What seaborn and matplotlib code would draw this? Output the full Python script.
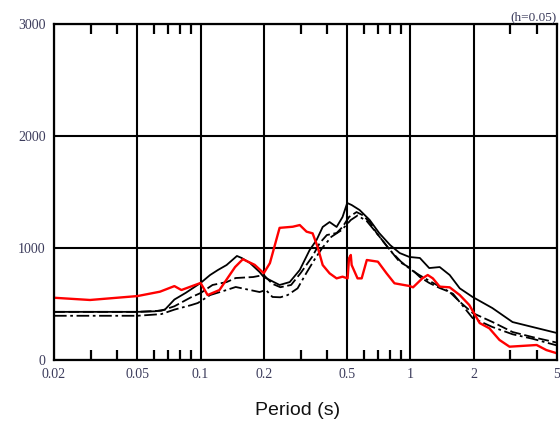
import numpy as np
import pandas as pd
import matplotlib
matplotlib.use("Agg")
import matplotlib.pyplot as plt
from matplotlib.ticker import FixedLocator, NullFormatter, NullLocator
import seaborn as sns

# Response spectra (h = 0.05): period (s) vs spectral acceleration
red_period = [0.02, 0.0297, 0.05, 0.064, 0.075, 0.081, 0.1, 0.108, 0.123, 0.146, 0.159,
              0.181, 0.2, 0.214, 0.238, 0.275, 0.297, 0.32, 0.342, 0.361, 0.382, 0.412,
              0.445, 0.475, 0.502, 0.51, 0.52, 0.525, 0.56, 0.586, 0.62, 0.70, 0.71,
              0.77, 0.84, 0.99, 1.03, 1.14, 1.21, 1.28, 1.38, 1.54, 1.72, 1.91, 2.14,
              2.38, 2.66, 2.97, 4.0, 4.45, 5.0]
red_value = [556, 536, 571, 610, 660, 625, 688, 580, 625, 830, 900,
             850, 775, 865, 1180, 1190, 1205, 1146, 1131, 1012, 848, 774,
             729, 744, 729, 908, 938, 848, 729, 729, 893, 878, 863,
             774, 685, 661, 649, 729, 759, 729, 655, 649, 580, 491, 330,
             283, 179, 119, 134, 89, 60]

solid_period = [0.02, 0.033, 0.05, 0.0606, 0.0676, 0.075, 0.085, 0.1, 0.111, 0.121,
                0.133, 0.149, 0.157, 0.172, 0.191, 0.2, 0.214, 0.238, 0.266, 0.297,
                0.331, 0.357, 0.382, 0.412, 0.445, 0.475, 0.5, 0.525, 0.573, 0.64,
                0.71, 0.80, 0.89, 0.99, 1.11, 1.23, 1.38, 1.54, 1.72, 1.98, 2.46,
                3.07, 3.82, 5.0]
solid_value = [430, 430, 430, 435, 450, 540, 600, 688, 759, 804,
               848, 929, 911, 866, 786, 741, 714, 670, 696, 804,
               982, 1071, 1188, 1232, 1188, 1277, 1402, 1384, 1339, 1250,
               1134, 1027, 955, 920, 911, 821, 830, 759, 640, 563, 464,
               339, 295, 241]

dash_period = [0.02, 0.05, 0.065, 0.075, 0.09, 0.1, 0.114, 0.133, 0.147, 0.178, 0.2,
               0.22, 0.24, 0.27, 0.30, 0.34, 0.37, 0.40, 0.445, 0.475, 0.51, 0.554,
               0.59, 0.64, 0.69, 0.80, 0.89, 1.0, 1.11, 1.23, 1.38, 1.54, 1.72, 1.98,
               2.46, 3.07, 3.82, 5.0]
dash_value = [430, 430, 440, 480, 560, 598, 670, 696, 732, 741, 759,
              680, 650, 670, 777, 920, 1045, 1116, 1134, 1188, 1277, 1321,
              1295, 1232, 1134, 982, 875, 821, 741, 688, 643, 607, 520, 420,
              340, 250, 205, 155]

dashdot_period = [0.02, 0.05, 0.065, 0.075, 0.09, 0.097, 0.111, 0.133, 0.147, 0.172,
                  0.191, 0.205, 0.22, 0.24, 0.26, 0.29, 0.32, 0.35, 0.38, 0.42, 0.47,
                  0.52, 0.56, 0.62, 0.70, 0.80, 0.90, 1.0, 1.1, 1.25, 1.4, 1.6, 1.98,
                  2.46, 3.07, 3.82, 5.0]
dashdot_value = [395, 395, 410, 450, 490, 509, 580, 625, 652, 625,
                 607, 625, 563, 560, 580, 640, 780, 900, 1000, 1100, 1160,
                 1250, 1290, 1240, 1120, 980, 880, 810, 760, 700, 650, 590, 375,
                 295, 230, 190, 130]

x_major = [0.02, 0.05, 0.1, 0.2, 0.5, 1, 2, 5]
x_major_labels = ["0.02", "0.05", "0.1", "0.2", "0.5", "1", "2", "5"]
x_minor = [0.03, 0.04, 0.06, 0.07, 0.08, 0.09, 0.3, 0.4, 0.6, 0.7, 0.8, 0.9, 3, 4]
y_major = [0, 1000, 2000, 3000]

sns.set_style("white")
plt.rcParams["font.family"] = ["Liberation Serif", "DejaVu Serif"]

fig = plt.figure(figsize=(5.6, 4.25), dpi=100)
ax = fig.add_axes([0.0964, 0.1529, 0.8982, 0.7906])

series = [
    (dashdot_period, dashdot_value, "black", (0, (7, 2, 1.5, 2)), 1.3),
    (dash_period, dash_value, "black", (0, (6, 2)), 1.3),
    (solid_period, solid_value, "black", "-", 1.3),
    (red_period, red_value, "#ff0000", "-", 1.7),
]
for per, val, col, ls, lw in series:
    df = pd.DataFrame({"period": per, "sa": val})
    sns.lineplot(data=df, x="period", y="sa", ax=ax, color=col,
                 linestyle=ls, linewidth=lw, sort=False, estimator=None)

ax.set_xscale("log")
ax.set_xlim(0.02, 5)
ax.set_ylim(0, 3000)

ax.xaxis.set_major_locator(FixedLocator(x_major))
ax.set_xticklabels(x_major_labels)
ax.xaxis.set_minor_locator(FixedLocator(x_minor))
ax.xaxis.set_minor_formatter(NullFormatter())
ax.yaxis.set_major_locator(FixedLocator(y_major))
ax.yaxis.set_minor_locator(NullLocator())

label_color = "#3c3c5c"
ax.tick_params(axis="both", which="major", length=0, labelsize=10,
               labelcolor=label_color, pad=6)
ax.tick_params(axis="x", which="minor", direction="in", length=7, width=1.6,
               top=True, bottom=True, color="black")

ax.grid(True, which="major", color="black", linewidth=1.5)
for sp in ax.spines.values():
    sp.set_color("black")
    sp.set_linewidth(1.6)

ax.set_xlabel("Period (s)", family=["Liberation Sans", "DejaVu Sans"],
              fontsize=14, color="#111111")
ax.xaxis.set_label_coords(0.485, -0.125)
ax.set_ylabel("")
ax.set_title("(h=0.05)", loc="right", fontsize=9.5, color=label_color, pad=3)

fig.savefig("out.png", dpi=100)
